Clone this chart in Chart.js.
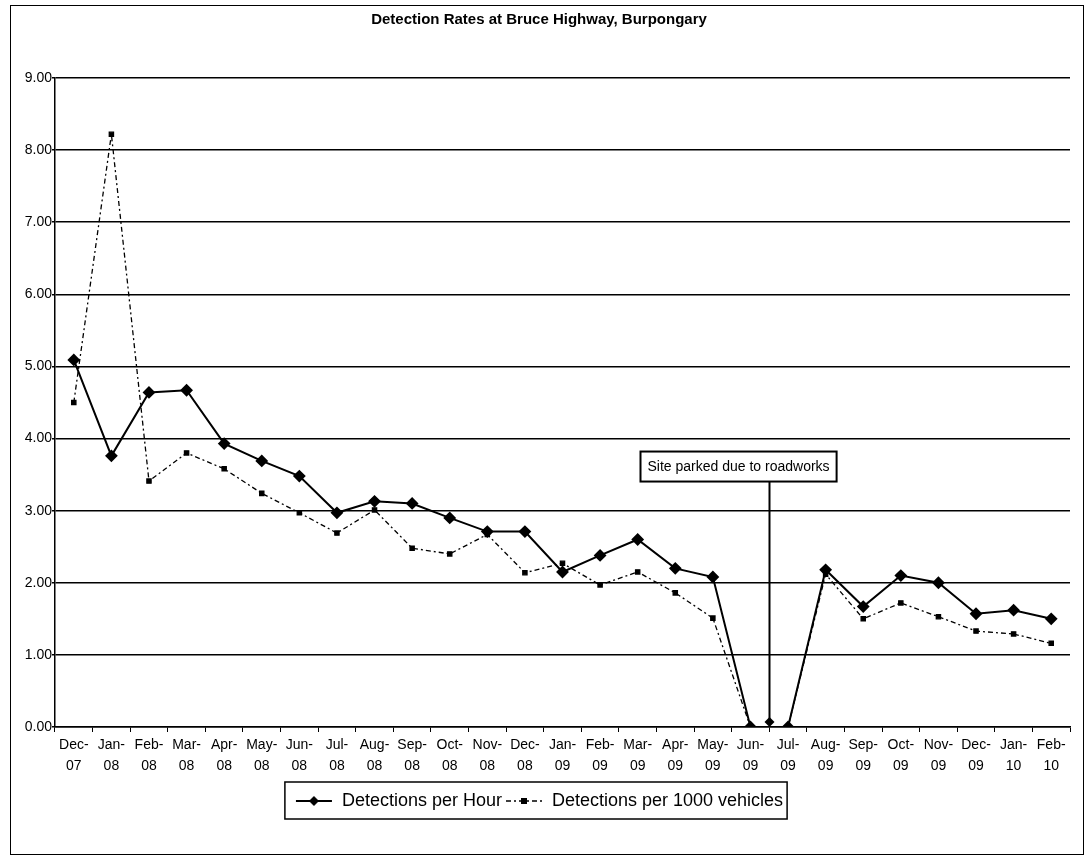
<!DOCTYPE html>
<html>
<head>
<meta charset="utf-8">
<script src="https://cdn.jsdelivr.net/npm/chart.js@4"></script>
<style>
  html, body { margin: 0; padding: 0; background: #fff; }
  #wrap { width: 1089px; height: 858px; }
</style>
</head>
<body>
<div id="wrap"><canvas id="grafico"></canvas></div>
<script>
// Datos
const meses = ['Dec', 'Jan', 'Feb', 'Mar', 'Apr', 'May', 'Jun', 'Jul', 'Aug', 'Sep', 'Oct', 'Nov', 'Dec',
  'Jan', 'Feb', 'Mar', 'Apr', 'May', 'Jun', 'Jul', 'Aug', 'Sep', 'Oct', 'Nov', 'Dec', 'Jan', 'Feb'];
const anios = ['07', '08', '08', '08', '08', '08', '08', '08', '08', '08', '08', '08', '08',
  '09', '09', '09', '09', '09', '09', '09', '09', '09', '09', '09', '09', '10', '10'];
const porHora = [5.09, 3.76, 4.64, 4.67, 3.93, 3.69, 3.48, 2.97, 3.13, 3.10, 2.90, 2.71, 2.71,
  2.15, 2.38, 2.60, 2.20, 2.08, 0, 0, 2.18, 1.67, 2.10, 2.00, 1.57, 1.62, 1.50];
const por1000 = [4.50, 8.22, 3.41, 3.80, 3.58, 3.24, 2.97, 2.69, 3.01, 2.48, 2.40, 2.67, 2.14,
  2.27, 1.97, 2.15, 1.86, 1.51, 0, 0, 2.12, 1.50, 1.72, 1.53, 1.33, 1.29, 1.16];
const nota = 'Site parked due to roadworks';

const etiquetas = meses.map((m, i) => [m + '-', anios[i]]);
const fuente = "Arial, 'Liberation Sans', sans-serif";

// muestra de leyenda: linea + marcador, como en Excel
function muestra(dash, tipo) {
  const c = document.createElement('canvas');
  c.width = 38; c.height = 12;
  const g = c.getContext('2d');
  g.strokeStyle = '#000';
  g.fillStyle = '#000';
  g.lineWidth = tipo === 'rombo' ? 2 : 1.5;
  g.setLineDash(dash);
  g.beginPath(); g.moveTo(1, 6); g.lineTo(37, 6); g.stroke();
  g.setLineDash([]);
  if (tipo === 'rombo') {
    g.beginPath(); g.moveTo(19, 1); g.lineTo(24, 6); g.lineTo(19, 11); g.lineTo(14, 6); g.closePath(); g.fill();
  } else {
    g.fillRect(16, 3, 6, 6);
  }
  return c;
}
const muestras = [muestra([], 'rombo'), muestra([5, 3, 2, 3], 'cuadro')];

// marco, caja de la leyenda y la nota
const extras = {
  id: 'extras',
  beforeDraw(chart) {
    const ctx = chart.ctx;
    ctx.save();
    ctx.fillStyle = '#fff';
    ctx.fillRect(0, 0, chart.width, chart.height);
    ctx.strokeStyle = '#000';
    ctx.lineWidth = 1;
    ctx.strokeRect(10.5, 5.5, 1073, 849);
    ctx.restore();
  },
  afterDraw(chart) {
    const ctx = chart.ctx;
    const x = chart.scales.x;
    const y = chart.scales.y;
    ctx.save();
    // caja de la leyenda
    const cajas = chart.legend.legendHitBoxes;
    if (cajas && cajas.length) {
      const izq = Math.min(...cajas.map(b => b.left)) - 10;
      const der = Math.max(...cajas.map(b => b.left + b.width)) + 4;
      const arr = Math.min(...cajas.map(b => b.top)) - 10;
      const aba = Math.max(...cajas.map(b => b.top + b.height)) + 9;
      ctx.strokeStyle = '#000';
      ctx.lineWidth = 1.5;
      ctx.strokeRect(izq, arr, der - izq, aba - arr);
    }
    // nota "Site parked..."
    const px = Math.round(x.getPixelForValue(18.5)) + 0.5;
    const top = y.getPixelForValue(3.82);
    const alto = 30;
    ctx.font = '14px ' + fuente;
    const ancho = ctx.measureText(nota).width + 14;
    const izqN = px - 129;
    ctx.fillStyle = '#fff';
    ctx.fillRect(izqN, top, ancho, alto);
    ctx.strokeStyle = '#000';
    ctx.lineWidth = 2;
    ctx.strokeRect(izqN, top, ancho, alto);
    ctx.fillStyle = '#000';
    ctx.textBaseline = 'middle';
    ctx.fillText(nota, izqN + 7, top + alto / 2 + 1);
    const base = y.getPixelForValue(0);
    ctx.lineWidth = 2;
    ctx.beginPath(); ctx.moveTo(px, top + alto); ctx.lineTo(px, base - 4); ctx.stroke();
    ctx.beginPath();
    ctx.moveTo(px, base - 10); ctx.lineTo(px + 5, base - 5); ctx.lineTo(px, base); ctx.lineTo(px - 5, base - 5);
    ctx.closePath(); ctx.fill();
    ctx.restore();
  }
};

const ctx = document.getElementById('grafico').getContext('2d');
new Chart(ctx, {
  type: 'line',
  data: {
    labels: etiquetas,
    datasets: [
      {
        label: 'Detections per Hour',
        data: porHora,
        borderColor: '#000',
        backgroundColor: '#000',
        borderWidth: 2,
        pointStyle: 'rectRot',
        pointRadius: 5,
        pointHoverRadius: 5,
        tension: 0
      },
      {
        label: 'Detections per 1000 vehicles',
        data: por1000,
        borderColor: '#000',
        backgroundColor: '#000',
        borderWidth: 1.3,
        borderDash: [5, 3, 2, 3],
        pointStyle: 'rect',
        pointRadius: 3,
        pointHoverRadius: 3,
        tension: 0
      }
    ]
  },
  options: {
    responsive: true,
    maintainAspectRatio: false,
    animation: false,
    layout: { padding: { left: 8, right: 19, top: 0, bottom: 38 } },
    plugins: {
      title: {
        display: true,
        text: 'Detection Rates at Bruce Highway, Burpongary',
        color: '#000',
        font: { family: fuente, size: 15, weight: 'bold' },
        padding: { top: 11, bottom: 49 }
      },
      legend: {
        position: 'bottom',
        labels: {
          color: '#000',
          font: { family: fuente, size: 18 },
          usePointStyle: true,
          pointStyleWidth: 38,
          padding: 3,
          generateLabels(chart) {
            return chart.data.datasets.map((d, i) => ({
              text: d.label,
              fillStyle: '#000',
              strokeStyle: '#000',
              lineWidth: 0,
              pointStyle: muestras[i],
              datasetIndex: i,
              hidden: false
            }));
          }
        }
      },
      tooltip: { enabled: false }
    },
    scales: {
      x: {
        offset: true,
        afterFit(s) { s.height = 62; },
        grid: {
          display: true,
          drawOnChartArea: false,
          drawTicks: true,
          tickLength: 5,
          color: '#000',
          offset: true
        },
        border: { display: true, color: '#000', width: 1.5 },
        ticks: {
          color: '#000',
          font: { family: fuente, size: 14, lineHeight: 1.5 },
          maxRotation: 0,
          minRotation: 0,
          autoSkip: false,
          padding: 3
        }
      },
      y: {
        min: 0,
        max: 9,
        afterFit(s) { s.width = 47; },
        grid: {
          color: '#000',
          lineWidth: 1.5,
          drawTicks: true,
          tickLength: 3
        },
        border: { display: true, color: '#000', width: 1.5 },
        ticks: {
          stepSize: 1,
          color: '#000',
          font: { family: fuente, size: 14 },
          padding: 0,
          callback: v => Number(v).toFixed(2)
        }
      }
    }
  },
  plugins: [extras]
});
</script>
</body>
</html>
